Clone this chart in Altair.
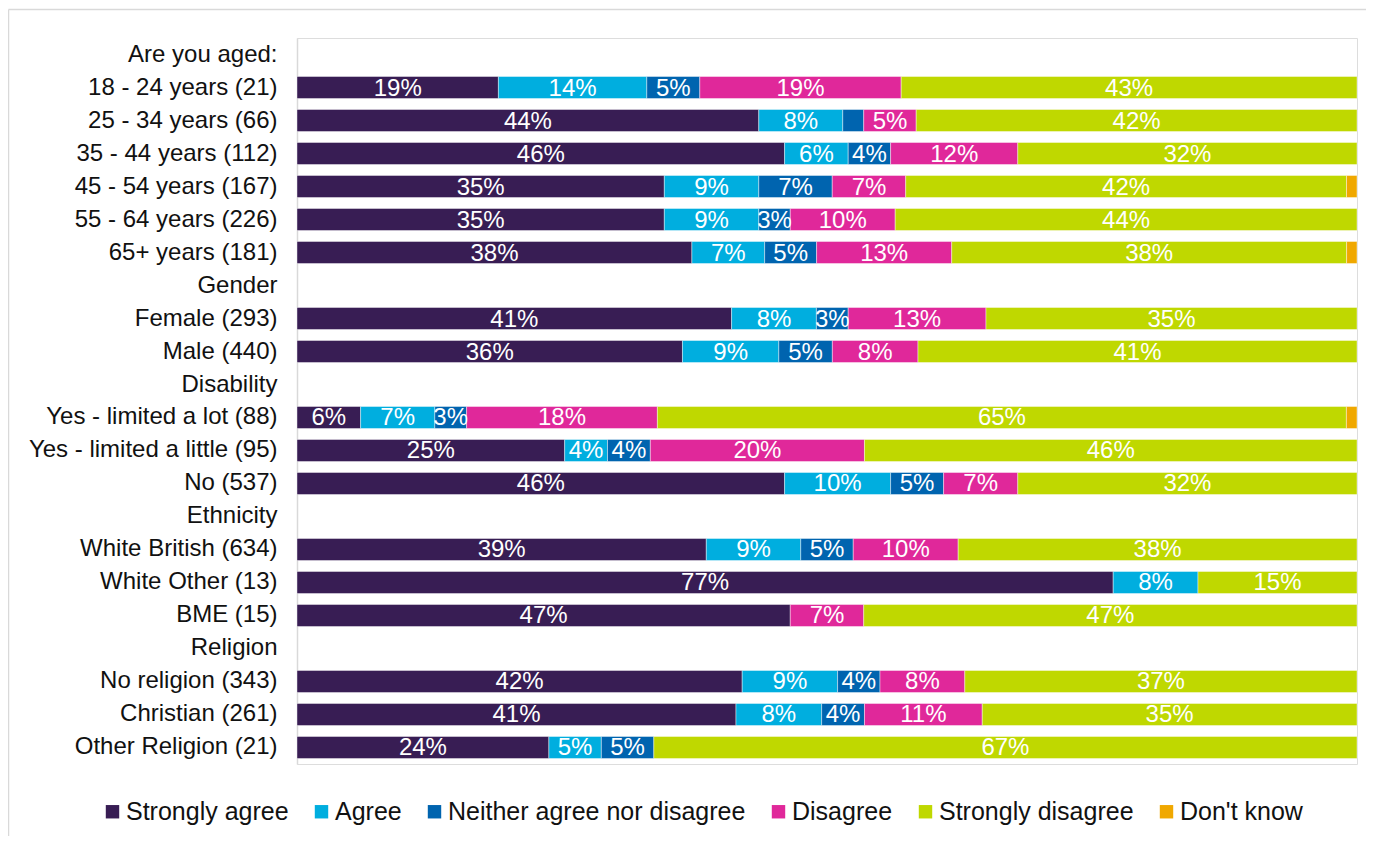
import altair as alt
import pandas as pd

# ---- data ----
row_labels = [
    "Are you aged:",
    "18 - 24 years (21)", "25 - 34 years (66)", "35 - 44 years (112)",
    "45 - 54 years (167)", "55 - 64 years (226)", "65+ years (181)",
    "Gender",
    "Female (293)", "Male (440)",
    "Disability",
    "Yes - limited a lot (88)", "Yes - limited a little (95)", "No (537)",
    "Ethnicity",
    "White British (634)", "White Other (13)", "BME (15)",
    "Religion",
    "No religion (343)", "Christian (261)", "Other Religion (21)",
]
headers = ["Are you aged:", "Gender", "Disability", "Ethnicity", "Religion"]
bar_rows = [r for r in row_labels if r not in headers]

responses = ["Strongly agree", "Agree", "Neither agree nor disagree",
             "Disagree", "Strongly disagree", "Don't know"]
colors = ["#381D54", "#00AEDF", "#0064AF", "#E0289A", "#BFD800", "#F0A800"]

strongly_agree    = [19, 44, 46, 35, 35, 38, 41, 36, 6, 25, 46, 39, 77, 47, 42, 41, 24]
agree             = [14, 8, 6, 9, 9, 7, 8, 9, 7, 4, 10, 9, 8, 0, 9, 8, 5]
neither           = [5, 2, 4, 7, 3, 5, 3, 5, 3, 4, 5, 5, 0, 0, 4, 4, 5]
disagree          = [19, 5, 12, 7, 10, 13, 13, 8, 18, 20, 7, 10, 0, 7, 8, 11, 0]
strongly_disagree = [43, 42, 32, 42, 44, 38, 35, 41, 65, 46, 32, 38, 15, 47, 37, 35, 67]
dont_know         = [0, 0, 0, 1, 0, 1, 0, 0, 1, 0, 0, 0, 0, 0, 0, 0, 0]

series = [strongly_agree, agree, neither, disagree, strongly_disagree, dont_know]

records = []
for k, (resp, vals) in enumerate(zip(responses, series)):
    for row, v in zip(bar_rows, vals):
        if v <= 0:
            continue
        records.append({
            "row": row,
            "response": resp,
            "order": k,
            "value": v,
            "label": f"{v}%" if v >= 3 else "",
        })
df = pd.DataFrame(records)

FONT = "Liberation Sans"

base = alt.Chart(df).transform_stack(
    stack="value",
    groupby=["row"],
    as_=["x0", "x1"],
    offset="normalize",
    sort=[alt.SortField("order", order="ascending")],
).transform_calculate(
    mid="(datum.x0 + datum.x1) / 2"
)

y_enc = alt.Y(
    "row:N",
    sort=row_labels,
    scale=alt.Scale(domain=row_labels, paddingInner=0.333, paddingOuter=0.1667),
    axis=alt.Axis(
        title=None, ticks=False, tickSize=0, labelPadding=20,
        labelFontSize=24, labelFont=FONT, labelColor="#111111",
        labelLimit=500, domainColor="#d9d9d9", domainWidth=1.5, grid=False,
    ),
)

bars = base.mark_bar(stroke="white", strokeWidth=0.6, strokeOpacity=0.7).encode(
    x=alt.X("x0:Q", scale=alt.Scale(domain=[0, 1]), axis=None),
    x2="x1:Q",
    y=y_enc,
    color=alt.Color(
        "response:N",
        scale=alt.Scale(domain=responses, range=colors),
        sort=responses,
        legend=alt.Legend(
            title=None, orient="none", direction="horizontal", columns=6,
            legendX=-197, legendY=761,
            symbolType="square", symbolSize=180, symbolStrokeWidth=0,
            symbolOpacity=1,
            labelFontSize=25, labelFont=FONT, labelColor="#111111",
            labelOffset=1, columnPadding=20, labelLimit=0, padding=0,
        ),
    ),
    order=alt.Order("order:Q"),
)

labels = base.mark_text(
    color="white", fontSize=24, font=FONT, baseline="middle", align="center", dy=1
).encode(
    x=alt.X("mid:Q", scale=alt.Scale(domain=[0, 1]), axis=None),
    y=alt.Y("row:N", sort=row_labels),
    text="label:N",
)

frame = alt.Chart(alt.Data(values=[{"b": 1}]))
border_top = frame.mark_rule(color="#d9d9d9", strokeWidth=1.5).encode(
    x=alt.value(-288.5), x2=alt.value(3000), y=alt.value(-28.5)
)
border_left = frame.mark_rule(color="#d9d9d9", strokeWidth=1.5).encode(
    x=alt.value(-288.5), y=alt.value(-28.5), y2=alt.value(3000)
)

chart = alt.layer(border_top, border_left, bars, labels).properties(
    width=1060,
    height=726,
    autosize=alt.AutoSizeParams(type="none"),
    padding={"left": 289, "top": 30, "right": 9, "bottom": 72},
).configure_view(stroke=None).configure(background="white")

chart.save("out.html", embed_options={"renderer": "svg", "actions": False})
